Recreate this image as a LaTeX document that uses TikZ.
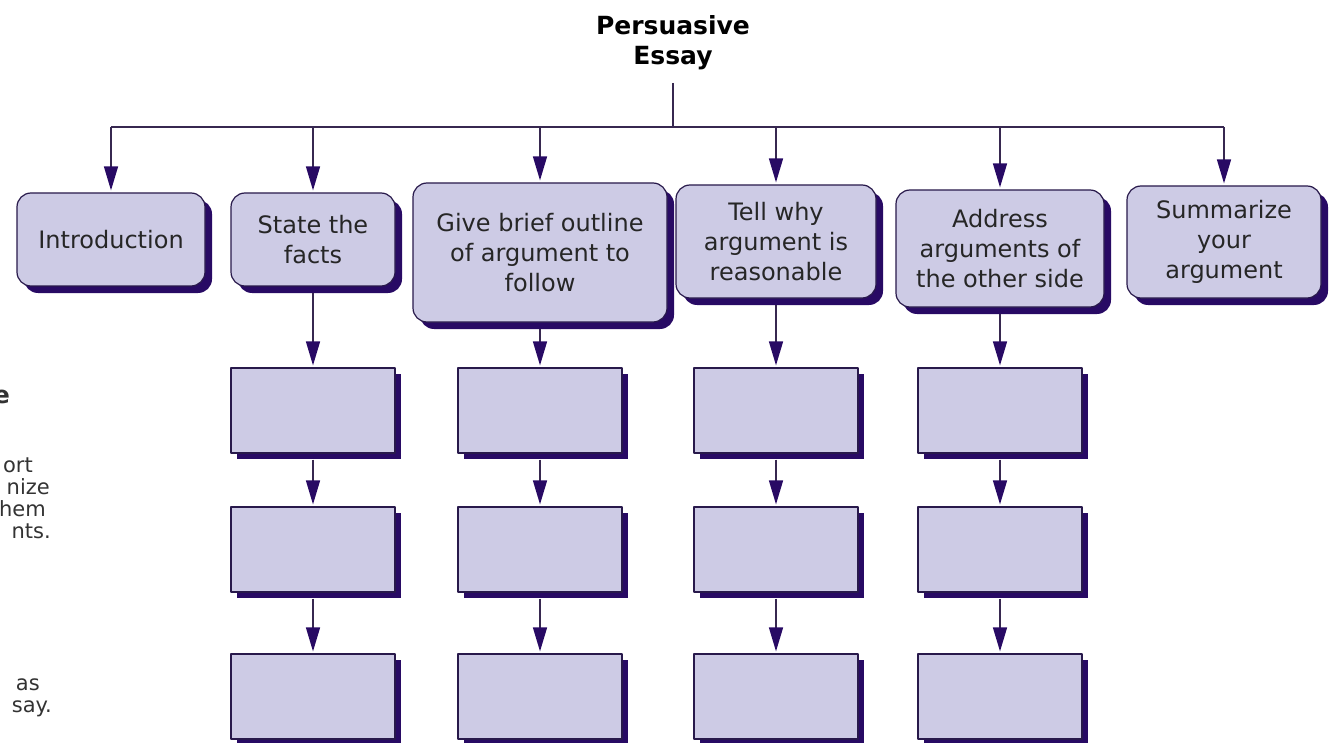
\documentclass[tikz,border=0pt]{standalone}
\usepackage{fontspec}
\setmainfont{DejaVu Sans}
\usetikzlibrary{arrows.meta,shadows}
\definecolor{boxfill}{RGB}{205,203,229}
\definecolor{boxedge}{RGB}{40,25,75}
\definecolor{shade}{RGB}{40,10,100}
\definecolor{wire}{RGB}{55,40,80}
\tikzset{topbox/.style={draw=boxedge,fill=boxfill,line width=1.2pt,rounded corners=14pt,align=center,inner sep=0pt,text=black!85,drop shadow={shadow xshift=7pt,shadow yshift=-7pt,fill=shade,opacity=1}}}
\tikzset{subbox/.style={draw=boxedge,fill=boxfill,line width=1.2pt,minimum width=164pt,minimum height=85pt,drop shadow={shadow xshift=6pt,shadow yshift=-6pt,fill=shade,opacity=1}}}
\tikzset{link/.style={draw=wire,line width=1.5pt,-{Triangle[length=24pt,width=14pt,color=shade]},shorten >=2pt}}
\tikzset{sublink/.style={link,shorten <=6pt}}
\tikzset{cut/.style={anchor=base east,inner sep=0pt,text=black!80,font=\fontsize{21}{24}\selectfont}}

\begin{document}
\begin{tikzpicture}[x=1pt,y=-1pt,line join=round,font=\fontsize{24}{30}\selectfont]
\useasboundingbox (0,0) rectangle (1330,743);
% --- title and the bar under it
\node[anchor=south,align=center,inner ysep=13pt,font=\bfseries\fontsize{25}{30}\selectfont] (essay) at (673,83) {Persuasive\\Essay};
\coordinate (bar) at (673,127);
% --- parts of the essay
\node[topbox,minimum width=188pt,minimum height=93pt] (intro) at (111,239.5) {Introduction};
\node[topbox,minimum width=164pt,minimum height=93pt] (facts) at (313,239.5) {State the\\facts};
\node[topbox,minimum width=254pt,minimum height=139pt] (outline) at (540,252.5) {Give brief outline\\of argument to\\follow};
\node[topbox,minimum width=200pt,minimum height=113pt] (why) at (776,241.5) {Tell why\\argument is\\reasonable};
\node[topbox,minimum width=208pt,minimum height=117pt] (other) at (1000,248.5) {Address\\arguments of\\the other side};
\node[topbox,minimum width=194pt,minimum height=112pt] (summ) at (1224,242) {Summarize\\your\\argument};
\draw[wire,line width=1.5pt] (essay.south) -- (essay.south |- bar);
\draw[wire,line width=1.5pt] (intro.north |- bar) -- (summ.north |- bar);
\draw[link] (intro.north |- bar) -- (intro.north);
\draw[link] (facts.north |- bar) -- (facts.north);
\draw[link] (outline.north |- bar) -- (outline.north);
\draw[link] (why.north |- bar) -- (why.north);
\draw[link] (other.north |- bar) -- (other.north);
\draw[link] (summ.north |- bar) -- (summ.north);
% --- empty boxes, three under each middle part
\node[subbox] (f1) at (313,410.5) {}; \node[subbox] (f2) at (313,549.5) {}; \node[subbox] (f3) at (313,696.5) {};
\node[subbox] (o1) at (540,410.5) {}; \node[subbox] (o2) at (540,549.5) {}; \node[subbox] (o3) at (540,696.5) {};
\node[subbox] (w1) at (776,410.5) {}; \node[subbox] (w2) at (776,549.5) {}; \node[subbox] (w3) at (776,696.5) {};
\node[subbox] (a1) at (1000,410.5) {}; \node[subbox] (a2) at (1000,549.5) {}; \node[subbox] (a3) at (1000,696.5) {};
\draw[sublink] (facts) -- (f1); \draw[sublink] (f1) -- (f2); \draw[sublink] (f2) -- (f3);
\draw[sublink] (outline) -- (o1); \draw[sublink] (o1) -- (o2); \draw[sublink] (o2) -- (o3);
\draw[sublink] (why) -- (w1); \draw[sublink] (w1) -- (w2); \draw[sublink] (w2) -- (w3);
\draw[sublink] (other) -- (a1); \draw[sublink] (a1) -- (a2); \draw[sublink] (a2) -- (a3);
% --- cut-off text at the left edge
\node[cut,font=\bfseries\fontsize{24}{30}\selectfont] (l0) at (10,403) {e};
\node[cut] (l1) at (33,472) {ort};
\node[cut] (l2) at (50,494) {nize};
\node[cut] (l3) at (46,516) {hem};
\node[cut] (l4) at (51,538) {nts.};
\node[cut] (l5) at (40,690) {as};
\node[cut] (l6) at (52,712) {say.};
\end{tikzpicture}
\end{document}
